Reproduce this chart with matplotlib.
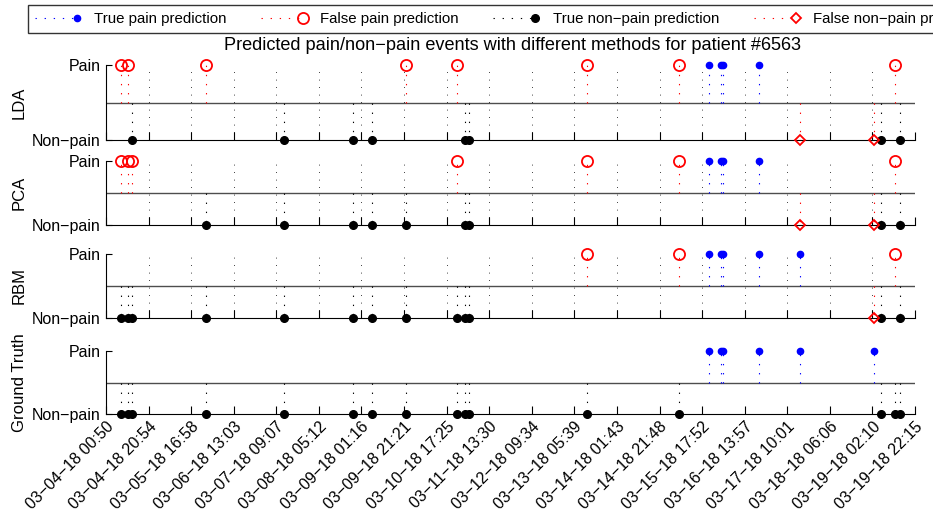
import numpy as np
import matplotlib.pyplot as plt
from matplotlib.lines import Line2D
from matplotlib.legend_handler import HandlerLine2D

plt.rcParams['font.family'] = ['Liberation Sans', 'DejaVu Sans']
plt.rcParams['font.size'] = 11.5

# event times in hours after 03-04-18 00:50
event_hours = [7.3, 10.6, 12.4, 47.3, 84.0, 116.4, 125.2, 141.5, 165.6, 169.2, 171.2,
               226.7, 270.1, 284.5, 290.0, 291.1, 308.1, 327.2, 362.0, 365.3, 372.2, 374.2]
ground_truth = [0, 0, 0, 0, 0, 0, 0, 0, 0, 0, 0, 0, 0, 1, 1, 1, 1, 1, 1, 0, 0, 0]
lda_pred = [1, 1, 0, 1, 0, 0, 0, 1, 1, 0, 0, 1, 1, 1, 1, 1, 1, 0, 0, 0, 1, 0]
pca_pred = [1, 1, 1, 0, 0, 0, 0, 0, 1, 0, 0, 1, 1, 1, 1, 1, 1, 0, 0, 0, 1, 0]
rbm_pred = [0, 0, 0, 0, 0, 0, 0, 0, 0, 0, 0, 1, 1, 1, 1, 1, 1, 1, 0, 0, 1, 0]

span_hours = 381.42
tick_labels = ['03−04−18 00:50', '03−04−18 20:54', '03−05−18 16:58', '03−06−18 13:03',
               '03−07−18 09:07', '03−08−18 05:12', '03−09−18 01:16', '03−09−18 21:21',
               '03−10−18 17:25', '03−11−18 13:30', '03−12−18 09:34', '03−13−18 05:39',
               '03−14−18 01:43', '03−14−18 21:48', '03−15−18 17:52', '03−16−18 13:57',
               '03−17−18 10:01', '03−18−18 06:06', '03−19−18 02:10', '03−19−18 22:15']

DOT = (0, (1.2, 7))
styles = {
    'tp': dict(color='b', marker='o', mfc='b', mec='b', ms=4.5),
    'fp': dict(color='r', marker='o', mfc='none', mec='r', ms=8, mew=1.3),
    'tn': dict(color='k', marker='o', mfc='k', mec='k', ms=5.5),
    'fn': dict(color='r', marker='D', mfc='none', mec='r', ms=5.5, mew=1.3),
}


def draw_panel(ax, pred, truth, label, grid=True):
    x = np.array(event_hours)
    pred = np.array(pred)
    truth = np.array(truth)
    ax.axhline(0.5, color='0.3', lw=1, zorder=1)
    groups = {'tp': (pred == 1) & (truth == 1), 'fp': (pred == 1) & (truth == 0),
              'tn': (pred == 0) & (truth == 0), 'fn': (pred == 0) & (truth == 1)}
    for key, m in groups.items():
        if not m.any():
            continue
        st = styles[key]
        ax.vlines(x[m], 0.5, pred[m], colors=st['color'], linestyles=DOT, lw=0.8, zorder=2)
        ax.plot(x[m], pred[m], ls='none', clip_on=False, zorder=3,
                **{k: v for k, v in st.items() if k != 'color'})
    ax.set_xlim(0, span_hours)
    ax.set_ylim(0, 1)
    ax.set_xticks(np.linspace(0, span_hours, len(tick_labels)))
    ax.set_yticks([0, 1])
    ax.set_yticklabels(['Non−pain', 'Pain'])
    if grid:
        ax.grid(axis='x', color='k', lw=0.6, linestyle=(0, (1, 8)))
    ax.tick_params(axis='x', direction='in', length=6, width=0.8)
    ax.tick_params(axis='y', direction='in', length=4, width=0.8, pad=4)
    for s in ['top', 'right']:
        ax.spines[s].set_visible(False)
    for s in ['left', 'bottom']:
        ax.spines[s].set_linewidth(0.8)
    ax.set_ylabel(label, fontsize=12)
    ax.yaxis.set_label_coords(-0.098, 0.5)


class EndMarker(HandlerLine2D):
    # dotted line with the marker at its right end, like a matlab stem legend
    def create_artists(self, legend, orig_handle, xdescent, ydescent, width, height,
                       fontsize, trans):
        y = (height - ydescent) / 2
        line = Line2D([-xdescent, -xdescent + width], [y, y])
        self.update_prop(line, orig_handle, legend)
        line.set_markevery([1])
        line.set_transform(trans)
        return [line]


fig = plt.figure(figsize=(9.33, 5.23), dpi=100)
W, H = 933, 523
left, right = 106, 915
panels = [(65, 140, 'LDA', lda_pred, True), (161, 225, 'PCA', pca_pred, True),
          (254, 318, 'RBM', rbm_pred, True), (351, 414, 'Ground Truth', ground_truth, False)]
axes = []
for top, bot, name, pred, grid in panels:
    ax = fig.add_axes([left / W, 1 - bot / H, (right - left) / W, (bot - top) / H])
    draw_panel(ax, pred, ground_truth, name, grid)
    if name != 'Ground Truth':
        ax.set_xticklabels([])
    else:
        ax.set_xticklabels(tick_labels, rotation=45, ha='right', rotation_mode='anchor')
    axes.append(ax)

fig.text(512 / W, 1 - 46 / H, 'Predicted pain/non−pain events with different methods for patient #6563',
         ha='center', va='center', fontsize=13.1)

handles = [
    Line2D([], [], linestyle=DOT, lw=0.8, **styles['tp']),
    Line2D([], [], linestyle=DOT, lw=0.8, **styles['fp']),
    Line2D([], [], linestyle=DOT, lw=0.8, **styles['tn']),
    Line2D([], [], linestyle=DOT, lw=0.8, **styles['fn']),
]
names = ['True pain prediction', 'False pain prediction', 'True non−pain prediction',
         'False non−pain prediction']
leg = fig.legend(handles, names, loc='upper left', bbox_to_anchor=(28 / W, 1 - 5 / H),
                 ncol=4, fontsize=10.8, frameon=True, fancybox=False, borderaxespad=0,
                 handlelength=2.8, handletextpad=1.15, columnspacing=2.3, borderpad=0.45,
                 handler_map={Line2D: EndMarker()})
leg.get_frame().set_edgecolor('k')
leg.get_frame().set_linewidth(1.0)

fig.savefig('out.png', dpi=100)
